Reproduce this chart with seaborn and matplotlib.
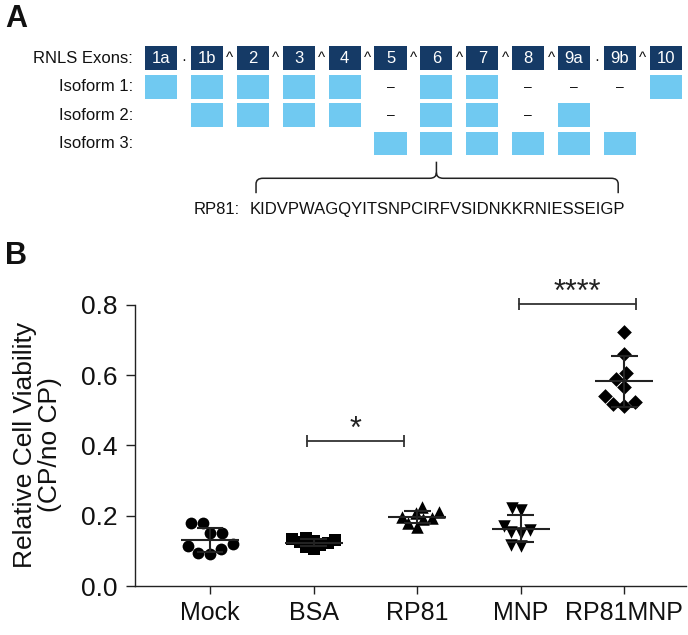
import pandas as pd
import seaborn as sns
import matplotlib.pyplot as plt
import numpy as np
from matplotlib.patches import Rectangle, PathPatch
from matplotlib.path import Path

# Panel A: exon structure
exons = ['1a', '1b', '2', '3', '4', '5', '6', '7', '8', '9a', '9b', '10']
separators = ['·', '^', '^', '^', '^', '^', '^', '^', '^', '·', '^']
iso_names = ['Isoform 1:', 'Isoform 2:', 'Isoform 3:']
iso_boxes = [
    ['1a', '1b', '2', '3', '4', '6', '7', '10'],
    ['1b', '2', '3', '4', '6', '7', '9a'],
    ['5', '6', '7', '8', '9a', '9b'],
]
iso_skipped = [
    ['5', '8', '9a', '9b'],
    ['5', '8'],
    [],
]
rp81_seq = 'KIDVPWAGQYITSNPCIRFVSIDNKKRNIESSEIGP'

# Panel B: relative cell viability
groups = ['Mock', 'BSA', 'RP81', 'MNP', 'RP81MNP']
mock = [0.178, 0.178, 0.152, 0.150, 0.119, 0.115, 0.104, 0.093, 0.091]
bsa = [0.138, 0.134, 0.131, 0.128, 0.125, 0.121, 0.117, 0.112, 0.105]
rp81 = [0.226, 0.210, 0.207, 0.197, 0.193, 0.190, 0.178, 0.169]
mnp = [0.222, 0.215, 0.170, 0.160, 0.155, 0.152, 0.118, 0.115]
rp81mnp = [0.722, 0.660, 0.607, 0.588, 0.565, 0.541, 0.524, 0.518, 0.512]
markers = ['o', 's', '^', 'v', 'D']
layout_sizes = [8.5, 5.5, 6.5, 6.5, 8]
draw_sizes = [8.5, 8.5, 9, 9, 7.5]

sns.set_style('ticks')
plt.rcParams['font.family'] = ['Liberation Sans', 'DejaVu Sans']
plt.rcParams['text.color'] = '#111111'
plt.rcParams['axes.labelcolor'] = '#111111'
plt.rcParams['xtick.color'] = '#111111'
plt.rcParams['ytick.color'] = '#111111'

navy = '#153a66'
light = '#70c9f1'
ink = '#111111'

fig = plt.figure(figsize=(6.88, 6.35), dpi=100)

# ---- Panel A ----
ax_a = fig.add_axes([0, 1 - 240 / 635, 1, 240 / 635])
ax_a.set_xlim(-3.508, 11.481)
ax_a.set_ylim(6.398, -2.053)
ax_a.axis('off')

bw, bh = 0.70, 0.84
ax_a.text(-0.61, 0, 'RNLS Exons:', ha='right', va='center', fontsize=12, color=ink)
for i, e in enumerate(exons):
    ax_a.add_patch(Rectangle((i - bw / 2, -bh / 2), bw, bh, color=navy, lw=0))
    ax_a.text(i, 0, e, ha='center', va='center', fontsize=12, color='white')
for i, s in enumerate(separators):
    ax_a.text(i + 0.5, 0.05 if s == '·' else 0, s, ha='center', va='center',
              fontsize=11, color=ink)

for r, name in enumerate(iso_names, start=1):
    ax_a.text(-0.61, r, name, ha='right', va='center', fontsize=12, color=ink)
    for e in iso_boxes[r - 1]:
        i = exons.index(e)
        ax_a.add_patch(Rectangle((i - bw / 2, r - bh / 2), bw, bh, color=light, lw=0))
    for e in iso_skipped[r - 1]:
        i = exons.index(e)
        ax_a.text(i, r, '–', ha='center', va='center', fontsize=10, color=ink)

# brace under exon 6
xl, xr, tip = 2.07, 9.96, 6.0
yb, yh, yt = 4.75, 4.225, 3.64
dx, dy = 0.15, 0.2
verts = [(xl, yb), (xl, yh + dy), (xl, yh), (xl + dx, yh), (tip - dx, yh),
         (tip, yh), (tip, yh - dy), (tip, yt),
         (tip, yh - dy), (tip, yh), (tip + dx, yh), (xr - dx, yh),
         (xr, yh), (xr, yh + dy), (xr, yb)]
codes = [Path.MOVETO, Path.LINETO, Path.CURVE3, Path.CURVE3, Path.LINETO,
         Path.CURVE3, Path.CURVE3, Path.LINETO,
         Path.MOVETO, Path.CURVE3, Path.CURVE3, Path.LINETO,
         Path.CURVE3, Path.CURVE3, Path.LINETO]
ax_a.add_patch(PathPatch(Path(verts, codes), fill=False, lw=1.1, ec='#222222'))
ax_a.text(0.70, 5.34, 'RP81:', ha='left', va='center', fontsize=12, color=ink)
ax_a.text(1.94, 5.34, rp81_seq, ha='left', va='center', fontsize=12, color=ink)

fig.text(5 / 688, 1 - 19 / 635, 'A', fontsize=22, fontweight='bold', va='center', ha='left')
fig.text(5 / 688, 1 - 256 / 635, 'B', fontsize=22, fontweight='bold', va='center', ha='left')

# ---- Panel B ----
ax = fig.add_axes([135 / 688, 49 / 635, 551 / 688, 316.3 / 635])
values = [mock, bsa, rp81, mnp, rp81mnp]
df = pd.DataFrame({
    'group': np.repeat(groups, [len(v) for v in values]),
    'value': np.concatenate(values),
})

swarm_colls = []
for g, m, ls in zip(groups, markers, layout_sizes):
    n_before = len(ax.collections)
    sns.swarmplot(data=df[df['group'] == g], x='group', y='value', order=groups,
                  marker=m, color='black', size=ls, ax=ax, zorder=2)
    swarm_colls.append(ax.collections[n_before:])

for i, g in enumerate(groups):
    v = df.loc[df['group'] == g, 'value']
    mu, sd = v.mean(), v.std()
    ax.hlines(mu, i - 0.28, i + 0.28, color='#222222', lw=1.5, zorder=3)
    ax.hlines([mu - sd, mu + sd], i - 0.13, i + 0.13, color='#222222', lw=1.5, zorder=3)
    ax.vlines(i, mu - sd, mu + sd, color='#222222', lw=1.5, zorder=3)

# significance brackets
brackets = [(0.933, 1.875, 0.413, '*'), (2.98, 4.11, 0.802, '****')]
for x0, x1, yb_, label in brackets:
    ax.plot([x0, x1], [yb_, yb_], color='#333333', lw=1.3)
    ax.vlines([x0, x1], yb_ - 0.017, yb_ + 0.017, color='#333333', lw=1.3)
    ax.text((x0 + x1) / 2, yb_ + 0.008, label, ha='center', va='baseline',
            fontsize=22, color='#222222')

ax.set_xlim(-0.724, 4.595)
ax.set_ylim(0, 0.9)
ax.set_yticks([0, 0.2, 0.4, 0.6, 0.8])
ax.set_yticklabels(['0.0', '0.2', '0.4', '0.6', '0.8'])
sns.despine(ax=ax)
ax.spines['left'].set_bounds(0, 0.8)
for sp in ['left', 'bottom']:
    ax.spines[sp].set_linewidth(1.0)
    ax.spines[sp].set_color('#222222')
ax.tick_params(axis='y', labelsize=19, length=6.5, width=1.0, pad=6, color='#222222')
ax.tick_params(axis='x', labelsize=18, length=6, width=1.0, pad=5, color='#222222')
ax.set_xlabel('')
ax.set_ylabel('Relative Cell Viability\n(CP/no CP)', fontsize=19, linespacing=1.05)
ax.yaxis.set_label_coords(-0.1325, 0.447)

# lay the swarms out with the layout sizes, then freeze them and draw the
# markers at their final size so they overlap like in the original figure
fig.canvas.draw()
for colls, ds in zip(swarm_colls, draw_sizes):
    for coll in colls:
        if 'draw' in coll.__dict__:
            del coll.draw
        coll.set_sizes([ds ** 2])

fig.savefig('out.png', dpi=100)
